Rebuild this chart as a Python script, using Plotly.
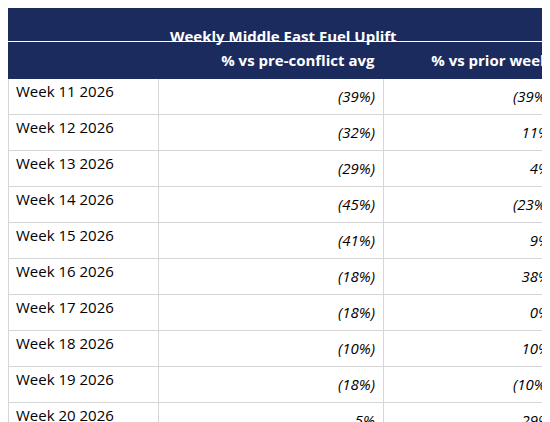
import plotly.graph_objects as go

title = "Weekly Middle East Fuel Uplift"
col_headers = ["", "% vs pre-conflict avg", "% vs prior week"]
weeks = ["Week 11 2026", "Week 12 2026", "Week 13 2026", "Week 14 2026", "Week 15 2026",
         "Week 16 2026", "Week 17 2026", "Week 18 2026", "Week 19 2026", "Week 20 2026",
         "Week 21 2026"]
vs_pre = ["(39%)", "(32%)", "(29%)", "(45%)", "(41%)", "(18%)", "(18%)", "(10%)", "(18%)", "5%", "(7%)"]
vs_prior = ["(39%)", "11%", "4%", "(23%)", "9%", "38%", "0%", "10%", "(10%)", "29%", "(11%)"]

navy = "#1c2b5e"

def fmt(vals, italic=True):
    out = []
    for i, v in enumerate(vals):
        s = f"<i>{v}</i>" if italic else v
        if i == len(vals) - 1:
            s = f"<b>{s}</b>"
        out.append(s)
    return out

fig = go.Figure(go.Table(
    domain=dict(x=[0, 1], y=[0, 1 - 34 / 422]),
    columnwidth=[150, 225, 175],
    header=dict(values=[f"<b>{h}</b>" for h in col_headers],
                fill_color=navy, line_color=navy,
                font=dict(color="white", size=15, family="Open Sans"),
                align=["left", "right", "right"], height=30),
    cells=dict(values=[fmt(weeks, italic=False), fmt(vs_pre), fmt(vs_prior)],
               fill_color="white", line=dict(color="#d6d6d6", width=1),
               font=dict(color="black", size=15, family="Open Sans"),
               align=["left", "right", "right"], height=32),
))

fig.add_shape(type="rect", xref="paper", yref="paper", x0=0, x1=1,
              y0=1 - 33 / 422, y1=1, fillcolor=navy, line_width=0, layer="below")
fig.add_annotation(text=f"<b>{title}</b>", xref="paper", yref="paper", x=0.5,
                   y=1 - 16 / 422, showarrow=False,
                   font=dict(color="white", size=15, family="Open Sans"))

fig.update_layout(width=550, height=422, margin=dict(l=0, r=0, t=0, b=0, pad=0),
                  paper_bgcolor="white")
fig.write_html("out.html")
